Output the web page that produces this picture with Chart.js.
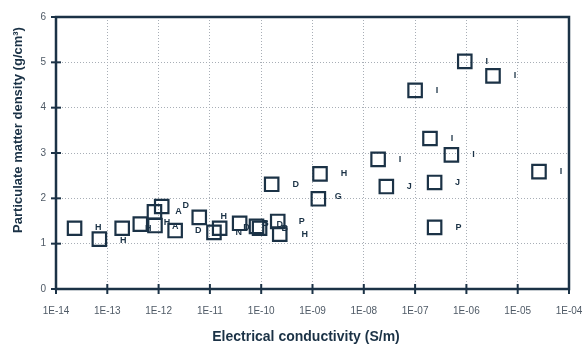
<!DOCTYPE html>
<html>
<head>
<meta charset="utf-8">
<script src="https://cdn.jsdelivr.net/npm/chart.js@4/dist/chart.umd.min.js"></script>
<style>
  html, body { margin: 0; padding: 0; background: #fff; }
  .wrap { width: 585px; height: 347px; }
</style>
</head>
<body>
<div class="wrap"><canvas id="myChart" width="585" height="347"></canvas></div>
<script>
// values
const conductivity = [2.3e-14, 7e-14, 1.95e-13, 4.4e-13, 8.5e-13, 8.3e-13, 1.15e-12, 2.1e-12, 6.2e-12, 1.2e-11,
    1.55e-11, 3.8e-11, 8.1e-11, 9.3e-11, 2.1e-10, 2.3e-10, 1.6e-10, 1.3e-9, 1.4e-9, 1.9e-8,
    2.75e-8, 1e-7, 1.95e-7, 2.4e-7, 2.4e-7, 5.1e-7, 9.3e-7, 3.3e-6, 2.6e-5];
const density = [1.34, 1.10, 1.34, 1.43, 1.40, 1.70, 1.82, 1.29, 1.58, 1.25,
    1.34, 1.45, 1.38, 1.34, 1.49, 1.21, 2.31, 1.99, 2.54, 2.86,
    2.26, 4.38, 3.32, 2.35, 1.36, 2.96, 5.02, 4.70, 2.59];

// letter tags and which point they belong to
const tagText  = ["H", "H", "H", "H", "A", "D", "A", "D", "H", "N", "D", "B", "D", "P", "B", "H",
    "D", "G", "H", "I", "J", "I", "I", "J", "P", "I", "I", "I", "I"];
const tagPoint = [1, 2, 3, 4, 5, 6, 7, 8, 10, 11, 12, 13, 14, 14, 15, 15,
    16, 17, 18, 19, 20, 21, 22, 23, 24, 25, 26, 27, 28];

const xTicks = [1e-14, 1e-13, 1e-12, 1e-11, 1e-10, 1e-9, 1e-8, 1e-7, 1e-6, 1e-5, 1e-4];
const yTicks = [0, 1, 2, 3, 4, 5, 6];

const xTitle = "Electrical conductivity (S/m)";
const yTitle = "Particulate matter density (g/cm\u00b3)";

// pixel nudges for the tags (style, not data)
const tagShift = [[-1,-12],[1,12],[8,4],[12,-3],[24,0],[24,-1],[0,-4],[-1,13],[4,-12],[-1,9],[-10,1],[6,-5],[2,3],[24,0],[5,-6],[25,0],
    [24,0],[20,-2],[24,0],[22,0],[23,0],[22,0],[22,0],[23,0],[24,0],[22,0],[22,0],[22,0],[22,0]];

const navy = "#1b3246";
const font = "'Liberation Sans', Arial, sans-serif";

function fmtExp(v) {
    const e = Math.round(Math.log10(v));
    const s = e < 0 ? "-" + String(-e).padStart(2, "0") : "+" + String(e).padStart(2, "0");
    return "1E" + s;
}

const extras = {
    id: "extras",
    afterDatasetsDraw(chart) {
        const ctx = chart.ctx;
        const xs = chart.scales.x, ys = chart.scales.y;
        const a = chart.chartArea;
        ctx.save();
        // box border
        ctx.strokeStyle = navy;
        ctx.lineWidth = 2.5;
        ctx.strokeRect(a.left, a.top, a.right - a.left, a.bottom - a.top);
        // crossing tick marks
        ctx.lineWidth = 2;
        xTicks.forEach(t => {
            const px = xs.getPixelForValue(t);
            ctx.beginPath();
            ctx.moveTo(px, a.bottom - 5);
            ctx.lineTo(px, a.bottom + 5);
            ctx.stroke();
        });
        yTicks.forEach(t => {
            const py = ys.getPixelForValue(t);
            ctx.beginPath();
            ctx.moveTo(a.left - 5, py);
            ctx.lineTo(a.left + 5, py);
            ctx.stroke();
        });
        // tags
        ctx.fillStyle = navy;
        ctx.font = "bold 9px " + font;
        ctx.textAlign = "center";
        ctx.textBaseline = "middle";
        tagText.forEach((t, i) => {
            const p = tagPoint[i];
            const px = xs.getPixelForValue(conductivity[p]) + tagShift[i][0];
            const py = ys.getPixelForValue(density[p]) + tagShift[i][1];
            ctx.fillText(t, px, py);
        });
        // axis titles
        ctx.font = "bold 14px " + font;
        ctx.fillText(xTitle, 306, 337);
        ctx.translate(18, 130);
        ctx.rotate(-Math.PI / 2);
        ctx.font = "bold 13px " + font;
        ctx.fillText(yTitle, 0, 0);
        ctx.restore();
    }
};

const data = {
    datasets: [{
        label: "density",
        data: conductivity.map((c, i) => ({ x: c, y: density[i] })),
        pointStyle: "rect",
        pointRadius: 9.5,
        pointHoverRadius: 9.5,
        borderWidth: 2.2,
        borderColor: navy,
        backgroundColor: "rgba(0,0,0,0)"
    }]
};

const config = {
    type: "scatter",
    data: data,
    options: {
        responsive: false,
        animation: false,
        layout: { padding: { top: 17, right: 16, left: 0, bottom: 0 } },
        plugins: {
            legend: { display: false },
            tooltip: { enabled: false }
        },
        scales: {
            x: {
                type: "logarithmic",
                min: 1e-14,
                max: 1e-4,
                afterBuildTicks(axis) {
                    axis.ticks = xTicks.map(v => ({ value: v }));
                },
                afterFit(axis) {
                    axis.height = 58;
                    axis.paddingLeft = 0;
                    axis.paddingRight = 0;
                },
                border: { display: false, dash: [1, 2] },
                grid: {
                    color: "#a8aeb6",
                    lineWidth: 1,
                    drawTicks: false
                },
                ticks: {
                    padding: 16,
                    color: "#4f5a66",
                    font: { family: font, size: 10 },
                    maxRotation: 0,
                    autoSkip: false,
                    callback: v => fmtExp(v)
                }
            },
            y: {
                min: 0,
                max: 6,
                afterBuildTicks(axis) {
                    axis.ticks = yTicks.map(v => ({ value: v }));
                },
                afterFit(axis) { axis.width = 56; },
                border: { display: false, dash: [1, 2] },
                grid: {
                    color: "#a8aeb6",
                    lineWidth: 1,
                    drawTicks: false
                },
                ticks: {
                    padding: 10,
                    color: "#4f5a66",
                    font: { family: font, size: 10 }
                }
            }
        }
    },
    plugins: [{
        id: "whiteBg",
        beforeDraw(chart) {
            const c = chart.ctx;
            c.save();
            c.fillStyle = "#fff";
            c.fillRect(0, 0, chart.width, chart.height);
            c.restore();
        }
    }, extras]
};

const myChart = new Chart(document.getElementById("myChart"), config);
</script>
</body>
</html>
